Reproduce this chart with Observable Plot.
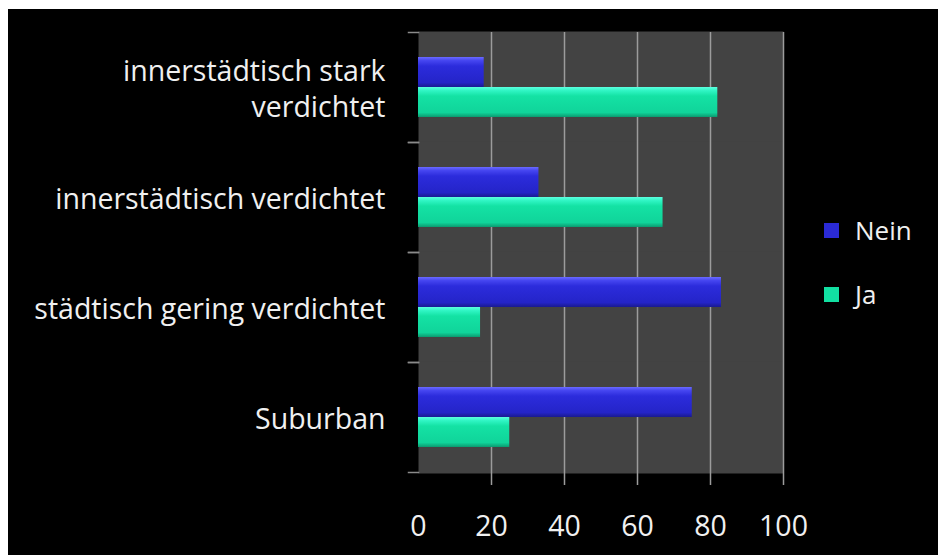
<!DOCTYPE html>
<html>
<head>
<meta charset="utf-8">
<script src="https://cdn.jsdelivr.net/npm/d3@7"></script>
<script src="https://cdn.jsdelivr.net/npm/@observablehq/plot@0.6"></script>
<style>
  html, body { margin: 0; padding: 0; background: #fff; }
  #wrap { position: absolute; left: 8px; top: 9px; width: 930px; height: 546px; background: #000; font-family: "Open Sans", Lato, sans-serif; color: #fff; }
  #wrap svg { display: block; }
  .legend { position: absolute; left: 816px; top: 204px; font-size: 26px; color: #f0f0f0; }
  .legend .item { display: flex; align-items: center; height: 34px; margin-bottom: 30px; }
  .legend .sw { width: 15px; height: 15px; margin-right: 16px; }
</style>
</head>
<body>
<div id="wrap"></div>
<script>
const categories = ["innerstädtisch stark verdichtet", "innerstädtisch verdichtet", "städtisch gering verdichtet", "Suburban"];
const categoryLabels = ["innerstädtisch stark\nverdichtet", "innerstädtisch verdichtet", "städtisch gering verdichtet", "Suburban"];
const series = ["Nein", "Ja"];
const neinValues = [18, 33, 83, 75];
const jaValues = [82, 67, 17, 25];
const xTicks = [0, 20, 40, 60, 80, 100];
const gridTicks = [20, 40, 60, 80, 100];
const seriesColors = ["#2a2ad6", "#12e0a2"];

const data = [];
categories.forEach((c, i) => {
  data.push({category: c, series: "Nein", value: neinValues[i]});
  data.push({category: c, series: "Ja", value: jaValues[i]});
});

const chart = Plot.plot({
  width: 930,
  height: 546,
  marginLeft: 410,
  marginRight: 155,
  marginTop: 22,
  marginBottom: 83,
  style: {background: "#000", color: "#fff", fontFamily: "'Open Sans', Lato, sans-serif", overflow: "visible"},
  x: {domain: [0, 100]},
  fy: {domain: categories, padding: 0, axis: null},
  y: {domain: series, paddingInner: 0, paddingOuter: 0.78, axis: null},
  color: {domain: series, range: ["url(#gradNein)", "url(#gradJa)"]},
  marks: [
    Plot.frame({fill: "#434343", stroke: "none", insetTop: -1, insetBottom: -1}),
    Plot.frame({anchor: "top", stroke: "#8a8a8a", strokeWidth: 1.5, insetLeft: -10, insetRight: 365}),
    Plot.frame({anchor: "bottom", stroke: "#8a8a8a", strokeWidth: 1.5, insetLeft: -10, insetRight: 365}),
    Plot.gridX({ticks: gridTicks, stroke: "#9c9c9c", strokeOpacity: 1, strokeWidth: 1.5}),
    Plot.barX(data, {fy: "category", y: "series", x: "value", fill: "series"}),
    Plot.text(categories, {fy: d => d, text: (d, i) => categoryLabels[i], frameAnchor: "left", textAnchor: "end", dx: -33, fill: "#f0f0f0", fontSize: 28.5, lineHeight: 1.26}),
    Plot.axisX({ticks: gridTicks, tickSize: 13, stroke: "#9c9c9c", strokeWidth: 1.5, fill: "none", label: null}),
    Plot.axisX({ticks: xTicks, tickSize: 0, tickPadding: 43, fill: "#f0f0f0", fontSize: 28.5, label: null})
  ]
});

const svg = d3.select(chart);
const defs = svg.insert("defs", ":first-child");
function grad(id, stops) {
  const g = defs.append("linearGradient").attr("id", id).attr("x1", 0).attr("y1", 0).attr("x2", 0).attr("y2", 1);
  stops.forEach(([o, c]) => g.append("stop").attr("offset", o).attr("stop-color", c));
}
grad("gradNein", [[0, "#6a6aff"], [0.12, "#4545f0"], [0.3, "#2c2cdc"], [0.85, "#2424c8"], [1, "#1a1a90"]]);
grad("gradJa", [[0, "#5cffe0"], [0.12, "#30f5c4"], [0.3, "#14e2a4"], [0.85, "#10d49a"], [1, "#0b9a70"]]);

const wrap = document.getElementById("wrap");
wrap.appendChild(chart);

const legend = document.createElement("div");
legend.className = "legend";
series.forEach((s, i) => {
  const item = document.createElement("div");
  item.className = "item";
  const sw = document.createElement("span");
  sw.className = "sw";
  sw.style.background = seriesColors[i];
  const label = document.createElement("span");
  label.textContent = s;
  item.appendChild(sw);
  item.appendChild(label);
  legend.appendChild(item);
});
wrap.appendChild(legend);
</script>
</body>
</html>
